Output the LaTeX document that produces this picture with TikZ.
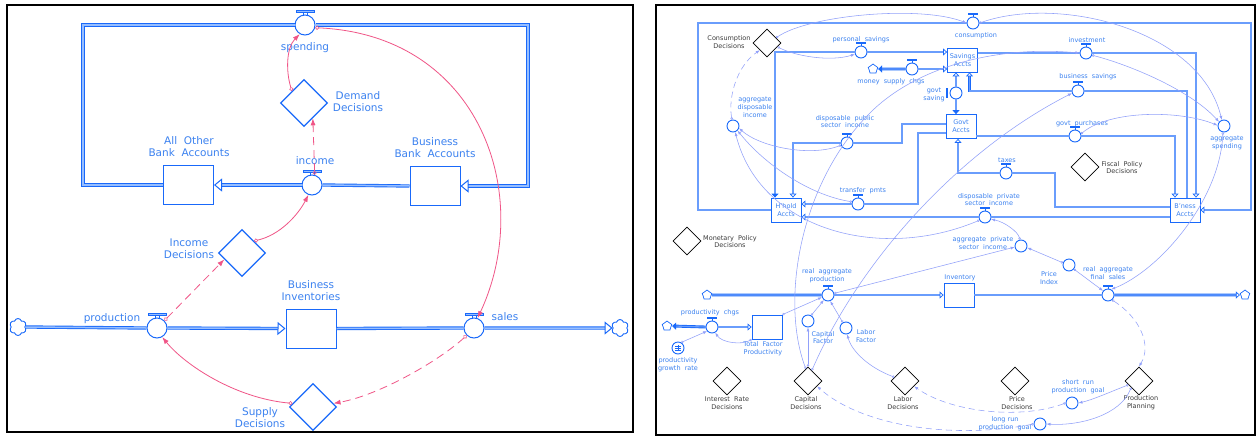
\documentclass[tikz,border=0pt]{standalone}
\usepackage{fontspec}
\setmainfont{DejaVu Sans}
\usetikzlibrary{shapes.geometric,shapes.symbols,arrows.meta}
\definecolor{fb}{RGB}{25,105,250}
\definecolor{fbl}{RGB}{150,190,255}
\definecolor{lb}{RGB}{60,130,240}
\definecolor{pk}{RGB}{240,85,135}
\definecolor{lk}{RGB}{145,160,250}
\definecolor{dg}{RGB}{60,60,60}
\begin{document}
\begin{tikzpicture}[x=1pt,y=-1pt,
 pipeL/.style={draw=fb, line width=0.9pt, double=fbl, double distance=1.5pt},
 stockL/.style={draw=fb, line width=1pt, fill=white, minimum width=50pt, minimum height=39pt, inner sep=0pt},
 valveL/.style={circle, draw=fb, line width=1pt, fill=white, minimum size=20pt, inner sep=0pt},
 decL/.style={diamond, draw=fb, line width=1.3pt, minimum width=47pt, minimum height=47pt, inner sep=0pt, fill=white},
 labL/.style={text=lb, font=\fontsize{10.5}{12}\selectfont, align=center, inner sep=0pt},
 cloudL/.style={cloud, cloud puffs=6, aspect=1, draw=fb, line width=0.9pt, minimum width=17pt, minimum height=17pt, inner sep=0pt, fill=white},
 inL/.style={-{Triangle[open, length=8pt, width=13pt, line width=1pt]}},
 lnkP/.style={draw=pk, line width=0.8pt, {Circle[open,length=4pt,width=4pt,line width=0.6pt]}-{Latex[length=7pt,width=5pt]}},
 lnkPd/.style={lnkP, dash pattern=on 8pt off 5pt},
 pipeR/.style={draw=fb, line width=0.9pt, double=fb!65!white, double distance=1.1pt},
 stockR/.style={draw=fb, line width=0.8pt, fill=white, minimum width=30pt, minimum height=24pt, inner sep=0pt, text=lb, font=\fontsize{6.5}{7.8}\selectfont, align=center},
 valveR/.style={circle, draw=fb, line width=0.9pt, fill=white, minimum size=12pt, inner sep=0pt},
 decR/.style={diamond, draw=black, line width=0.8pt, minimum width=28pt, minimum height=28pt, inner sep=0pt, fill=white},
 labR/.style={text=lb, font=\fontsize{6.5}{7.8}\selectfont, align=center, inner sep=0pt},
 labD/.style={labR, text=dg},
 cloudR/.style={cloud, cloud puffs=5, aspect=1, draw=fb, line width=0.7pt, minimum width=10pt, minimum height=10pt, inner sep=0pt, fill=white},
 inR/.style={-{Triangle[open, length=4pt, width=7pt, line width=0.7pt]}},
 lnk/.style={draw=lk, line width=0.55pt, {Circle[open,length=2.5pt,width=2.5pt]}-{Latex[length=4pt,width=3pt]}},
 lnkd/.style={lnk, dash pattern=on 6pt off 4pt}]
\useasboundingbox (0,0) rectangle (1259,437);
\fill[white] (0,0) rectangle (1259,437);
% frames
\draw[line width=1.8pt] (7,5) rectangle (633,432);
\draw[line width=1.8pt] (656,5) rectangle (1255,435);

% ================= LEFT PANEL =================
\node[stockL] (aoba) at (188.5,185) {};
\node[stockL] (bba) at (435,186) {};
\node[stockL] (bi) at (311,328.5) {};
\node[valveL] (spending) at (305,25) {};
\node[valveL] (income) at (312,185) {};
\node[valveL] (production) at (157,328) {};
\node[valveL] (sales) at (474,328) {};
\node[decL] (demand) at (304,103) {};
\node[decL] (incdec) at (242,253) {};
\node[decL] (supply) at (313,407) {};
\node[cloudL] (cl1) at (18,327) {};
\node[cloudL] (cl2) at (620,328) {};

\node[labL] (t1) at (305,48) {spending};
\node[labL] (t2) at (358,101.5) {Demand\\Decisions};
\node[labL] (t3) at (315,161) {income};
\node[labL] (t4) at (189,147) {All\ \ Other\\Bank\ \ Accounts};
\node[labL] (t5) at (435,148) {Business\\Bank\ \ Accounts};
\node[labL] (t6) at (189,249) {Income\\Decisions};
\node[labL] (t7) at (112,319) {production};
\node[labL] (t8) at (311,291) {Business\\Inventories};
\node[labL] (t9) at (505,317) {sales};
\node[labL] (t10) at (260,418) {Supply\\Decisions};

\draw[pipeL] (bba.west) -- (income.east);
\draw[pipeL, inL] (income.west) -- (aoba.east);
\draw[pipeL] (aoba.west) -| (83,25) -- (spending.west);
\draw[pipeL, inL] (spending.east) -- (528,25) |- (bba.east);
\draw[pipeL] (cl1.east) -- (production.west);
\draw[pipeL, inL] (production.east) -- (bi.west);
\draw[pipeL] (bi.east) -- (sales.west);
\draw[pipeL, inL] (sales.east) -- (cl2.west);

\foreach \v in {spending,income,production,sales}{
 \draw[fb, line width=0.8pt, fill=fbl] ([xshift=-9pt,yshift=2pt]\v.north) rectangle ([xshift=9pt,yshift=4.5pt]\v.north);
 \draw[fb, line width=0.7pt] ([xshift=-2pt]\v.north) -- ([xshift=-2pt,yshift=2pt]\v.north) ([xshift=2pt]\v.north) -- ([xshift=2pt,yshift=2pt]\v.north);
}

\draw[lnkP] (demand.north west) .. controls (286,72) and (286,48) .. (spending.240);
\draw[lnkPd] (income.75) -- (demand.300);
\draw[lnkP] (spending.-15) .. controls (480,35) and (535,195) .. (sales.70);
\draw[lnkP] (incdec.north east) .. controls (280,235) and (298,215) .. (income.250);
\draw[lnkPd] (production.45) -- (incdec.200);
\draw[lnkP] (supply.170) .. controls (235,398) and (185,365) .. (production.-60);
\draw[lnkPd] (sales.225) .. controls (440,360) and (380,395) .. (supply.10);

% ================= RIGHT PANEL =================
\node[stockR] (sav) at (962.5,60) {Savings\\Accts};
\node[stockR] (gov) at (961,126.5) {Govt\\Accts};
\node[stockR] (hh) at (786,210) {H'hold\\Accts};
\node[stockR] (bn) at (1185,210) {B'ness\\Accts};
\node[stockR] (inv2) at (959,295) {};
\node[stockR] (tfp) at (767,327) {};

\node[valveR] (cons) at (973,23) {};
\node[valveR] (ps) at (861,52) {};
\node[valveR] (msc) at (912,69) {};
\node[valveR] (gs) at (956,93) {};
\node[valveR] (inv) at (1086,53) {};
\node[valveR] (bs) at (1078,91) {};
\node[valveR] (gp) at (1075,136) {};
\node[valveR] (tax) at (1006,173) {};
\node[valveR] (dpub) at (847,143) {};
\node[valveR] (tp) at (858,204) {};
\node[valveR] (dpriv) at (985,217) {};
\node[valveR] (rap) at (828,295) {};
\node[valveR] (rfs) at (1108,295) {};
\node[valveR] (pc) at (712,327) {};

\node[valveR] (ad) at (733,126) {};
\node[valveR] (as) at (1224,126) {};
\node[valveR] (ap) at (1021,246) {};
\node[valveR] (pi) at (1069,265) {};
\node[valveR] (cf) at (808,321) {};
\node[valveR] (lf) at (846,328) {};
\node[valveR] (pgr) at (678,348) {};
\node[valveR] (sr) at (1072,403) {};
\node[valveR] (lr) at (1040,424) {};

\node[decR] (dcons) at (767,43) {};
\node[decR] (dmon) at (687,241) {};
\node[decR] (dfis) at (1085,167) {};
\node[decR] (dint) at (727,381) {};
\node[decR] (dcap) at (808,381) {};
\node[decR] (dlab) at (905,381) {};
\node[decR] (dpri) at (1015,381) {};
\node[decR] (dpp) at (1139,381) {};

\node[cloudR] (c1) at (873,69) {};
\node[cloudR] (c2) at (667,326) {};
\node[cloudR] (c3) at (707,295) {};
\node[cloudR] (c4) at (1245,295) {};

% pipes
\draw[pipeR] (hh.west) -| (698,23) -- (cons.west);
\draw[pipeR, inR] (cons.east) -- (1251,23) |- (bn.east);
\draw[pipeR, {Triangle[length=4pt,width=7pt]}-] ([xshift=-11pt]hh.north) |- (ps.west);
\draw[pipeR, inR] (ps.east) -- (sav.west |- ps.east);
\draw[pipeR, {Triangle[length=4pt,width=7pt]}-] (c1.east) -- (msc.west);
\draw[pipeR, inR] (msc.east) -- (sav.west |- msc.east);
\draw[pipeR, inR] (gs.north) -- (gs.north |- sav.south);
\draw[pipeR, -{Triangle[length=4pt,width=7pt]}] (gs.south) -- (gs.south |- gov.north);
\draw[pipeR] (sav.east |- inv.west) -- (inv.west);
\draw[pipeR, inR] (inv.east) -| ([xshift=11pt]bn.north);
\draw[pipeR] ([xshift=2pt]bn.north) |- (bs.east);
\draw[pipeR, inR] (bs.west) -| ([xshift=7pt]sav.south);
\draw[pipeR] (gov.east |- gp.west) -- (gp.west);
\draw[pipeR, inR] (gp.east) -| ([xshift=-10pt]bn.north);
\draw[pipeR] ([yshift=3pt]bn.west) -| (1055,173) -- (tax.east);
\draw[pipeR, inR] (tax.west) -| ([xshift=-3pt]gov.south);
\draw[pipeR] ([yshift=-7pt]bn.west) -- (dpriv.east);
\draw[pipeR, inR] (dpriv.west) -- (hh.east |- dpriv.west);
\draw[pipeR] ([yshift=-6.5pt]gov.west) -| (918,204) -- (tp.east);
\draw[pipeR, inR] (tp.west) -- (hh.east |- tp.west);
\draw[pipeR] ([yshift=2.5pt]gov.west) -| (902,143) -- (dpub.east);
\draw[pipeR, inR] (dpub.west) -| ([xshift=7pt]hh.north);
\draw[pipeR, {Triangle[length=4pt,width=7pt]}-] (c2.east) -- (pc.west);
\draw[pipeR, inR] (pc.east) -- (tfp.west);
\draw[pipeR] (c3.east) -- (rap.west);
\draw[pipeR, inR] (rap.east) -- (inv2.west);
\draw[pipeR] (inv2.east) -- (rfs.west);
\draw[pipeR, inR] (rfs.east) -- (c4.west);

\foreach \v in {cons,ps,msc,inv,bs,gp,tax,dpub,tp,dpriv,rap,rfs,pc}{
 \draw[fb, line width=1.3pt] ([xshift=-5pt,yshift=2.5pt]\v.north) -- ([xshift=5pt,yshift=2.5pt]\v.north);
 \draw[fb, line width=0.6pt] (\v.north) -- ([yshift=2.5pt]\v.north);
}
\draw[fb, line width=1.3pt] ([xshift=-2.5pt,yshift=5pt]gs.west) -- ([xshift=-2.5pt,yshift=-5pt]gs.west);
\draw[fb, line width=0.4pt] ([xshift=-3pt,yshift=2pt]pgr.center) -- ([xshift=3pt,yshift=2pt]pgr.center)
 ([xshift=-3pt]pgr.center) -- ([xshift=3pt]pgr.center) ([xshift=-3pt,yshift=-2pt]pgr.center) -- ([xshift=3pt,yshift=-2pt]pgr.center)
 ([yshift=3pt]pgr.center) -- ([yshift=-3pt]pgr.center);

% labels
\node[labD] (r1) at (729,42) {Consumption\\Decisions};
\node[labR] (r2) at (861,40) {personal\ \ savings};
\node[labR] (r3) at (891,82) {money\ \ supply\ \ chgs};
\node[labR] (r4) at (934,94.5) {govt\\saving};
\node[labR] (r5) at (755,107.5) {aggregate\\disposable\\income};
\node[labR] (r6) at (845,121.5) {disposable\ \ public\\sector\ \ income};
\node[labR] (r7) at (976,36) {consumption};
\node[labR] (r8) at (1087,40) {investment};
\node[labR] (r9) at (1088,77) {business\ \ savings};
\node[labR] (r10) at (1082,124) {govt\ \ purchases};
\node[labR] (r11) at (1227,142.5) {aggregate\\spending};
\node[labR] (r12) at (1007,160) {taxes};
\node[labD] (r13) at (1122,167.5) {Fiscal\ \ Policy\\Decisions};
\node[labR] (r14) at (989,199.5) {disposable\ \ private\\sector\ \ income};
\node[labR] (r15) at (863,191) {transfer\ \ pmts};
\node[labD] (r16) at (730,241.5) {Monetary\ \ Policy\\Decisions};
\node[labR] (r17) at (983,243) {aggregate\ \ private\\sector\ \ income};
\node[labR] (r18) at (1049,278) {Price\\Index};
\node[labR] (r19) at (1108,273) {real\ \ aggregate\\final\ \ sales};
\node[labR] (r20) at (827,276) {real\ \ aggregate\\production};
\node[labR] (r21) at (960,278) {Inventory};
\node[labR] (r22) at (823,337.5) {Capital\\Factor};
\node[labR] (r23) at (866,336) {Labor\\Factor};
\node[labR] (r24) at (710,313) {productivity\ \ chgs};
\node[labR] (r25) at (763,349) {Total\ \ Factor\\Productivity};
\node[labR] (r26) at (678,365) {productivity\\growth\ \ rate};
\node[labD] (r27) at (727,403) {Interest\ \ Rate\\Decisions};
\node[labD] (r28) at (806,403) {Capital\\Decisions};
\node[labD] (r29) at (903,403) {Labor\\Decisions};
\node[labD] (r30) at (1017,403) {Price\\Decisions};
\node[labD] (r31) at (1141,403) {Production\\Planning};
\node[labR] (r32) at (1078,386.5) {short\ \ run\\production\ \ goal};
\node[labR] (r33) at (1005,423.5) {long run\\production\ \ goal};

% information links
\draw[lnk] (dcons.30) .. controls (810,15) and (920,5) .. (cons.west);
\draw[lnk] (dcons.-20) .. controls (795,56) and (830,62) .. (ps.200);
\draw[lnkd] (ad.100) .. controls (728,95) and (738,65) .. (dcons.south west);
\draw[lnk] (dpub.200) .. controls (810,157) and (760,147) .. (ad.-20);
\draw[lnk] (tp.160) .. controls (810,195) and (765,165) .. (ad.-45);
\draw[lnk] (dpriv.210) .. controls (880,262) and (760,230) .. (ad.-70);
\draw[lnk] (cons.east) .. controls (1060,-5) and (1200,30) .. (as.110);
\draw[lnk] (inv.-20) .. controls (1130,65) and (1190,90) .. (as.140);
\draw[lnk] (gp.20) .. controls (1110,110) and (1180,110) .. (as.175);
\draw[lnk] (as.-100) .. controls (1220,200) and (1160,270) .. (rfs.60);
\draw[lnk] (dcap.100) .. controls (780,300) and (800,180) .. (873,110) .. controls (915,70) and (990,45) .. (inv.west);
\draw[lnk] (dcap.70) .. controls (860,260) and (960,150) .. (bs.200);
\draw[lnk] (dcap.north) -- (cf.south);
\draw[lnk] (cf.60) -- (rap.230);
\draw[lnk] (lf.120) -- (rap.-70);
\draw[lnk] (dlab.160) .. controls (870,368) and (852,352) .. (lf.-80);
\draw[lnk] (tfp.north east) -- (rap.200);
\draw[lnk] (rap.15) -- (ap.190);
\draw[lnk] (ap.100) .. controls (1018,232) and (1005,222) .. (dpriv.-20);
\draw[lnk] (pi.160) -- (ap.-15);
\draw[lnk] (pi.-40) -- (rfs.140);
\draw[lnkd] (rfs.-50) .. controls (1140,318) and (1152,345) .. (dpp.north);
\draw[lnk] (dpp.200) .. controls (1110,392) and (1092,400) .. (sr.east);
\draw[lnk] (dpp.220) .. controls (1120,415) and (1080,426) .. (lr.east);
\draw[lnkd] (sr.west) .. controls (1020,420) and (950,412) .. (dlab.-30);
\draw[lnkd] (lr.west) .. controls (950,440) and (860,425) .. (dcap.-30);
\draw[lnk] (pgr.60) -- (pc.220);
\draw[lnk] (tfp.south west) .. controls (742,345) and (722,343) .. (pc.-60);
\end{tikzpicture}
\end{document}
